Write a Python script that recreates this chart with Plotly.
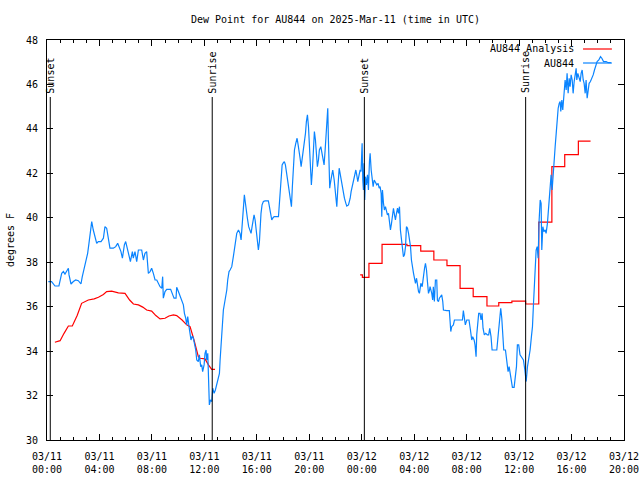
import pandas as pd
import plotly.graph_objects as go

BASE = pd.Timestamp("2025-03-11 00:00")

# Observed dew point (AU844), hours since 03/11 00:00 UTC, degrees F
obs_hours = [
    0.1, 0.35, 0.61, 0.91, 1.12, 1.25, 1.37, 1.5, 1.63, 1.68, 1.83, 2.01, 2.19, 2.39, 2.59, 2.69,
    2.85, 2.95, 3.1, 3.2, 3.3, 3.41, 3.53, 3.66, 3.79, 3.91, 4.12, 4.3, 4.42, 4.55, 4.68, 4.8,
    5.06, 5.24, 5.39, 5.49, 5.64, 5.75, 5.9, 6.0, 6.15, 6.25, 6.36, 6.51, 6.58, 6.71, 6.84, 6.97,
    7.22, 7.35, 7.47, 7.6, 7.73,
    7.86, 7.98, 8.11, 8.24, 8.37, 8.62, 8.75, 8.82, 8.87, 9.0, 9.13, 9.43, 9.59, 9.69, 9.84, 9.89,
    10.02, 10.15, 10.27, 10.4, 10.48, 10.58, 10.65, 10.73, 10.83, 10.91, 10.98, 11.08, 11.16, 11.24,
    11.34, 11.42, 11.54, 11.62, 11.72, 11.8, 11.87, 11.98, 12.05, 12.13, 12.18, 12.26, 12.33, 12.38,
    12.46, 12.56, 12.64, 12.74, 12.84, 12.94, 13.07, 13.15, 13.2, 13.27, 13.35, 13.45, 13.58, 13.71,
    13.78, 13.88,
    13.96, 14.09, 14.21, 14.34, 14.47, 14.6, 14.72, 14.8, 14.85, 14.93, 14.98, 15.05, 15.1, 15.18,
    15.28, 15.38, 15.49, 15.56, 15.64, 15.74, 15.79, 15.87, 15.94, 15.99, 16.07, 16.12, 16.2, 16.25,
    16.32, 16.4, 16.5, 16.63, 16.88, 16.96, 17.06, 17.14, 17.21, 17.32, 17.65, 17.7, 17.77, 17.85,
    17.93, 18.03, 18.1, 18.18, 18.26, 18.33, 18.41, 18.49, 18.56, 18.64, 18.71, 18.79, 18.87, 18.97,
    19.07, 19.15, 19.22, 19.3, 19.38, 19.45, 19.55, 19.63, 19.71, 19.78, 19.86, 19.94, 20.01, 20.09,
    20.16, 20.24, 20.32, 20.39, 20.47, 20.55, 20.62, 20.7, 20.77, 20.88, 20.95, 21.03, 21.13, 21.21,
    21.28, 21.36, 21.41, 21.46, 21.51, 21.56,
    21.59, 21.72, 21.79, 21.9, 21.97, 22.05, 22.1, 22.17, 22.28, 22.35, 22.43, 22.53, 22.61, 22.68,
    22.79, 22.86, 22.99, 23.12, 23.19, 23.29, 23.37, 23.45, 23.55, 23.62, 23.7, 23.8, 23.88, 23.95,
    24.03, 24.08, 24.13, 24.18, 24.23, 24.29, 24.36, 24.44, 24.51, 24.59, 24.64, 24.72, 24.79, 24.87,
    24.95, 25.05, 25.15, 25.25, 25.33, 25.4, 25.48, 25.53, 25.58, 25.66, 25.73, 25.81, 25.89, 25.96,
    26.04, 26.12, 26.19, 26.27, 26.34, 26.42, 26.5, 26.57, 26.65, 26.73, 26.8, 26.88, 26.95, 27.03,
    27.11, 27.18, 27.26, 27.34, 27.41, 27.49, 27.57, 27.64, 27.72, 27.79, 27.87, 27.95, 28.02, 28.1,
    28.18, 28.25, 28.33, 28.4, 28.51, 28.61, 28.68, 28.79, 28.86, 28.94, 29.01, 29.09, 29.17,
    29.21, 29.34, 29.41, 29.46, 29.54, 29.62, 29.72, 29.77, 29.85, 29.92, 30.02, 30.1, 30.18, 30.23,
    30.48, 30.68, 30.74, 30.79, 30.86, 30.99, 31.07, 31.37, 31.68, 31.75, 31.83, 31.9, 32.01, 32.18,
    32.29, 32.39, 32.46, 32.57, 32.64, 32.72, 32.77, 32.85, 32.92, 33.02, 33.1, 33.18, 33.25, 33.35,
    33.46, 33.58, 33.68, 33.76, 33.86, 33.94, 34.17, 34.3, 34.37, 34.45, 34.52, 34.6, 34.68, 34.75,
    34.83, 34.96, 35.06, 35.16, 35.24, 35.31, 35.41, 35.49, 35.62, 35.72, 35.8, 35.87, 35.97, 36.07,
    36.33, 36.44, 36.54, 36.64, 36.74, 36.84, 36.94, 37.02, 37.1, 37.17, 37.25, 37.3, 37.38, 37.45,
    37.53, 37.61, 37.68, 37.73, 37.81, 37.89, 37.99, 38.06, 38.16, 38.24, 38.32, 38.37, 38.44, 38.52,
    38.6, 38.67, 38.75, 38.83, 38.9, 38.98, 39.06, 39.13, 39.18, 39.26, 39.33, 39.39, 39.46, 39.51,
    39.59, 39.66, 39.74, 39.82, 39.89, 39.97, 40.05, 40.12, 40.2, 40.28, 40.35, 40.4, 40.48, 40.55,
    40.66, 40.73, 40.81, 40.89, 40.96, 41.04, 41.11, 41.19, 41.27, 41.34, 41.44, 41.55, 41.65, 41.75,
    41.85, 41.95, 42.08, 42.21, 42.31, 42.44, 42.64, 42.79, 43.0,
]
obs_dewpt = [
    37.13, 37.13, 36.93, 36.93, 37.5, 37.58, 37.47, 37.6, 37.73, 37.43, 37.02, 37.13, 37.2, 37.17, 37.02, 37.35,
    37.73, 37.95, 38.4, 38.85, 39.38, 39.83, 39.45, 39.15, 38.85, 38.93, 38.93, 39.08, 39.6, 39.53, 39.08, 38.63,
    38.63, 38.7, 38.85, 38.7, 38.48, 38.18, 38.78, 38.93, 38.55, 38.25, 38.03, 38.48, 38.18, 38.48, 38.03, 38.55,
    38.55, 38.1, 38.4, 38.48, 37.5,
    37.58, 37.73, 37.5, 37.2, 37.2, 36.9, 36.83, 37.35, 36.38, 36.68, 36.78, 36.78, 36.53, 36.38, 36.38, 36.87,
    36.68, 36.45, 36.26, 36.08, 35.7, 35.48, 35.18, 35.55, 35.1, 34.8, 34.5, 34.68, 34.58, 34.35,
    34.05, 33.6, 33.53, 33.83, 33.3, 33.38, 33.08, 33.38, 33.9, 34.05, 33.6, 33.9, 32.18, 31.58,
    31.8, 31.73, 32.33, 32.1, 32.25, 32.48, 32.85, 33.0, 33.6, 34.35, 35.1, 35.85, 36.3, 36.75,
    37.2, 37.58,
    37.65, 37.8, 38.25, 38.7, 39.3, 39.45, 39.3, 39.0, 39.38, 39.98, 40.65, 41.03, 40.8, 40.35,
    39.98, 39.6, 39.45, 39.3, 39.6, 39.9, 40.13, 39.9, 39.45, 39.15, 38.85, 38.55, 38.93, 39.53,
    40.2, 40.58, 40.73, 40.76, 40.76, 40.5, 40.13, 39.9, 39.98, 40.05, 40.05, 40.43, 41.25, 41.85,
    42.38, 42.48, 42.53, 42.38, 42.08, 41.7, 41.33, 41.03, 40.88, 40.5, 41.4, 42.15, 43.05, 43.35,
    43.58, 43.28, 43.05, 42.68, 42.3, 42.6, 42.9, 43.35, 43.8, 44.33, 44.63, 44.1, 43.43, 42.6,
    41.48, 42.15, 43.05, 43.88, 43.5, 42.9, 42.3, 42.6, 43.05, 43.2, 42.98, 42.68, 42.38, 43.05,
    43.95, 44.48, 44.93, 43.5, 42.3, 41.33,
    41.48, 41.93, 42.15, 41.7, 41.25, 40.8, 40.5, 41.25, 42.23, 42.0, 41.7, 41.4, 41.1, 40.88,
    40.65, 40.53, 40.58, 40.88, 41.18, 41.48, 41.7, 41.93, 42.15, 41.93, 41.63, 41.93, 42.15, 42.08,
    43.35, 41.7, 41.25, 42.45, 40.8, 41.85, 41.48, 41.93, 41.25, 42.53, 42.9, 42.15, 41.78, 41.4,
    41.7, 41.55, 41.48, 41.55, 41.33, 41.4, 41.1, 40.05, 41.25, 40.65, 40.35, 40.5, 40.2, 40.13,
    40.2, 39.9, 39.45, 39.75, 40.05, 40.43, 40.13, 39.9, 40.2, 40.43, 40.2, 40.5, 39.45, 39.0,
    38.7, 38.25, 38.33, 38.7, 39.6, 39.53, 39.3, 39.0, 38.7, 38.1, 37.65, 37.5, 37.28, 37.05,
    37.28, 36.98, 36.68, 36.6, 37.05, 36.9, 37.35, 37.73, 37.95, 37.65, 37.13, 36.6, 36.75,
    36.9, 36.6, 36.3, 36.9, 36.23, 37.2, 37.2, 36.3, 36.23, 36.38, 36.45, 36.53, 36.23, 35.85,
    35.82, 35.82, 35.33, 34.88, 35.1, 35.18, 35.4, 35.4, 35.4, 35.82, 35.4, 35.18, 35.4, 35.4,
    34.95, 34.5, 34.65, 34.5, 34.28, 33.75, 34.73, 35.33, 35.7, 35.7, 35.4, 35.7, 35.03, 34.73,
    34.8, 34.73, 34.73, 35.03, 34.65, 34.05, 34.05, 34.05, 34.5, 34.95, 35.4, 35.93, 35.48, 34.95,
    34.05, 34.05, 33.6, 33.08, 33.3, 33.08, 32.7, 32.37, 32.37, 32.85, 33.3, 34.28, 34.28, 33.83,
    33.6, 33.15, 32.63, 33.3, 33.6, 34.05, 34.65, 35.1, 36.15, 37.05, 37.73, 38.55, 38.7, 38.18,
    39.9, 40.8, 40.65, 38.55, 39.6, 39.38, 39.45, 39.3, 39.75, 40.35, 40.95, 41.55, 41.93, 41.25,
    42.15, 42.75, 43.2, 43.8, 44.4, 44.93, 45.15, 45.23, 44.78, 45.3, 44.85, 45.3, 45.68, 46.2,
    45.75, 46.5, 45.6, 46.28, 45.9, 46.43, 46.2, 45.6, 46.13, 46.43, 46.73, 46.2, 46.5, 46.35,
    46.13, 46.5, 46.65, 46.2, 46.05, 45.6, 46.2, 45.38, 45.68, 46.05, 46.13, 46.28, 46.43, 46.65,
    46.88, 47.03, 47.1, 47.25, 47.18, 47.03, 47.03, 46.98, 46.98,
]

# Analysis dew point, first run (continuous line)
ana1_hours = [0.6, 1.0, 1.3, 1.63, 1.93, 2.3, 2.64, 3.15, 3.6, 3.92, 4.3, 4.55, 4.93, 5.44, 5.95,
              6.3, 6.59, 6.97, 7.3, 7.6, 7.98, 8.3, 8.62, 9.0, 9.3, 9.64, 9.89, 10.3, 10.65, 10.91,
              11.21, 11.54, 11.67, 12.05, 12.31, 12.56, 12.81]
ana1_dewpt = [34.4, 34.47, 34.8, 35.13, 35.13, 35.6, 36.15, 36.3, 36.35, 36.42, 36.55, 36.68, 36.7, 36.62, 36.6,
              36.3, 36.12, 36.08, 35.98, 35.85, 35.8, 35.6, 35.45, 35.48, 35.58, 35.63, 35.6, 35.4, 35.18, 35.1,
              34.5, 33.75, 33.68, 33.65, 33.38, 33.18, 33.18]

# Analysis dew point, second run (hourly steps)
ana2_hours = [23.88, 24.05, 24.55, 25.55, 26.5, 27.45, 28.5, 29.5, 30.5, 31.5, 32.5, 33.55, 34.45,
              35.45, 36.5, 37.5, 38.5, 39.48, 40.52, 41.45]
ana2_dewpt = [37.43, 37.32, 37.95, 38.8, 38.8, 38.75, 38.5, 38.1, 37.85, 36.82, 36.45, 36.03, 36.18,
              36.25, 36.12, 39.8, 42.3, 42.84, 43.45, 43.45]

sun_labels = ["Sunset", "Sunrise", "Sunset", "Sunrise"]
sun_times = ["2025-03-11 00:15", "2025-03-11 12:36", "2025-03-12 00:12", "2025-03-12 12:30"]

y_ticks = [30, 32, 34, 36, 38, 40, 42, 44, 46, 48]

BLUE = "#0a84ff"
RED = "#ff0000"
FONT = "DejaVu Sans Mono"


def to_time(hours):
    return [BASE + pd.Timedelta(hours=h) for h in hours]


fig = go.Figure()
fig.add_trace(go.Scatter(x=to_time(ana1_hours), y=ana1_dewpt, mode="lines",
                         line=dict(color=RED, width=1.2), name="AU844 Analysis", showlegend=False))
fig.add_trace(go.Scatter(x=to_time(ana2_hours), y=ana2_dewpt, mode="lines",
                         line=dict(color=RED, width=1.2, shape="hv"), name="AU844 Analysis", showlegend=False))
fig.add_trace(go.Scatter(x=to_time(obs_hours), y=obs_dewpt, mode="lines",
                         line=dict(color=BLUE, width=1.2), name="AU844", showlegend=False))

line_top = 0.8575
for lab, t in zip(sun_labels, sun_times):
    fig.add_shape(type="line", xref="x", yref="paper", x0=t, x1=t, y0=0, y1=line_top,
                  line=dict(color="black", width=1))
    fig.add_annotation(x=t, xref="x", y=line_top + 0.004, yref="paper", text=lab, textangle=-90,
                       showarrow=False, xanchor="center", yanchor="bottom",
                       font=dict(family=FONT, size=10, color="black"))

# custom gnuplot-like key (text right, sample line to the right)
key = [("AU844 Analysis", RED, 0.9775), ("AU844", BLUE, 0.9425)]
for txt, col, yk in key:
    fig.add_annotation(x=0.917, xref="paper", y=yk, yref="paper", text=txt, showarrow=False,
                       xanchor="right", yanchor="middle", font=dict(family=FONT, size=10, color="black"))
    fig.add_shape(type="line", xref="paper", yref="paper", x0=0.929, x1=0.979, y0=yk, y1=yk,
                  line=dict(color=col, width=1.2))

fig.add_annotation(x=-0.064, xref="paper", y=0.5, yref="paper", text="degrees F", textangle=-90,
                   showarrow=False, xanchor="center", yanchor="middle",
                   font=dict(family=FONT, size=10, color="black"))

fig.update_layout(
    width=640, height=480,
    margin=dict(l=47, r=16, t=40, b=40, autoexpand=False),
    paper_bgcolor="white", plot_bgcolor="white",
    font=dict(family=FONT, size=10, color="black"),
    title=dict(text="Dew Point for AU844 on 2025-Mar-11 (time in UTC)", x=0.5, xref="paper",
               y=1 - 19 / 480, yref="container", xanchor="center", yanchor="middle",
               font=dict(family=FONT, size=10, color="black")),
    showlegend=False,
)
fig.update_xaxes(
    type="date", automargin=False,
    range=[BASE, BASE + pd.Timedelta(hours=44)],
    tick0=BASE, dtick=4 * 3600 * 1000,
    tickformat="%m/%d<br>%H:%M",
    ticks="inside", ticklen=6, tickcolor="black", mirror="ticks",
    minor=dict(dtick=3600 * 1000, ticks="inside", ticklen=3, tickcolor="black"),
    showline=True, linecolor="black", linewidth=1,
    showgrid=False, zeroline=False, ticklabelstandoff=7,
    tickfont=dict(family=FONT, size=10, color="black"),
)
fig.update_yaxes(
    automargin=False,
    range=[30, 48], tickvals=y_ticks,
    ticks="inside", ticklen=6, tickcolor="black", mirror="ticks",
    showline=True, linecolor="black", linewidth=1,
    showgrid=False, zeroline=False, ticklabelstandoff=6,
    tickfont=dict(family=FONT, size=10, color="black"),
)

fig.write_html("out.html", config={"displayModeBar": False},
               post_script="document.body.style.margin='0';document.body.style.overflow='hidden';")
